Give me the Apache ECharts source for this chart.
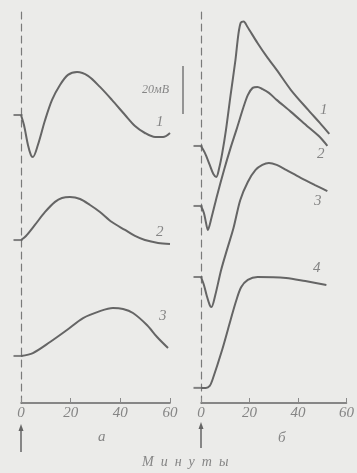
<!DOCTYPE html>
<html>
<head>
<meta charset="utf-8">
<script src="https://cdn.jsdelivr.net/npm/echarts@6/dist/echarts.min.js"></script>
<style>
    html, body { margin: 0; padding: 0; background: #ebebe9; }
    #chart { width: 357px; height: 473px; }
</style>
</head>
<body>
<div id="chart"></div>
<script>
    // ось X: минуты
    var xTicks = [0, 20, 40, 60];

    // панель а: кривые 1-3, [минуты, мВ]
    var a1 = [[0,120],[1.2,115.8],[2.8,107.5],[4,103.3],[4.8,102.5],[6.8,107.5],[9.7,117.9],[12.5,126.3],
              [15.7,132.5],[18.9,136.7],[22.6,137.9],[27,136.3],[31.8,131.7],[36.6,126.3],[41.9,120],
              [45.9,115.4],[49.9,112.5],[54,110.8],[57.2,110.8],[60,112.5]];
    var a2 = [[0,67.9],[2,69.6],[5.6,74.2],[9.7,79.6],[13.7,83.8],[16.5,85.4],[19.7,85.8],[23.8,85],
              [27.8,82.5],[31.8,79.6],[36.6,75.4],[41.9,72.1],[45.9,69.6],[49.9,67.9],[55.2,66.7],[60,66.3]];
    var a3 = [[0,19.6],[4.8,20.8],[11.7,25.4],[18.5,30.4],[25,35.4],[31.8,38.3],[37,39.6],[41.1,39.2],
              [45.1,37.5],[50.7,32.5],[54.8,27.5],[59.2,22.9]];

    // панель б: кривые 1-4
    var b1 = [[0,107.1],[1.6,104.2],[3.6,99.2],[5.1,95.4],[6.3,94.2],[7.5,97.9],[8.7,103.8],[10.3,113.8],
              [12.2,128.3],[14.2,142.9],[15.4,153.5],[16.4,158.5],[17.6,159],[19,157],
              [23.3,150],[27.2,144.2],[31.2,138.8],[37.1,130.4],[44.2,122.1],[49,116.7],[52.9,112.1]];
    var b2 = [[0,82.1],[1.2,79.2],[2,75.4],[2.8,72.1],[4.3,77.1],[6.7,86.7],[9.5,97.1],[12.2,106.3],
              [14.6,113.8],[17.4,122.9],[19.3,128.3],[21.3,131.3],[23.3,131.7],[25.3,130.8],[28,129.2],
              [31.2,126.3],[37.1,121.3],[44.2,115],[49,110.8],[52.1,107.1]];
    var b3 = [[0,52.5],[1.2,49.2],[2.4,44.6],[3.6,40.8],[4.3,40],[5.9,45],[8.3,55.4],[10.7,63.8],
              [13.4,72.9],[16.2,84.6],[19.3,92.1],[22.5,97.1],[25.3,99.2],[28,100],[31.2,99.2],
              [35.1,97.1],[41.1,93.8],[47,90.8],[52.1,88.3]];
    var b4 = [[0,6.3],[2,6.3],[3.6,7.1],[4.7,9.6],[8.7,22.1],[12.2,34.6],[14.6,42.9],[16.6,48.3],
              [19.3,51.3],[23.3,52.5],[35.1,52.1],[43,50.8],[51.7,49.2]];

    var curveNames = ['1', '2', '3', '4'];

    var ink = '#656565';
    var textInk = '#858585';
    var font = 'Liberation Serif';

    function curve(name, data, idx) {
        return {
            name: name,
            type: 'line',
            xAxisIndex: idx,
            yAxisIndex: idx,
            data: data,
            smooth: 0.3,
            showSymbol: false,
            lineStyle: { color: ink, width: 2 },
            silent: true
        };
    }

    // короткие штрихи исходного уровня у начала каждой кривой
    function baseMarks(list, idx) {
        return {
            type: 'scatter',
            xAxisIndex: idx,
            yAxisIndex: idx,
            symbol: 'rect',
            symbolSize: [9, 2],
            symbolOffset: [-3, 0],
            itemStyle: { color: ink },
            data: list.map(function (c) { return c[0]; }),
            silent: true
        };
    }

    function xAxisCfg(idx) {
        return {
            type: 'value',
            gridIndex: idx,
            min: 0,
            max: 60,
            interval: 20,
            axisLine: { lineStyle: { color: ink, width: 1.5 } },
            axisTick: { inside: true, length: 5, lineStyle: { color: '#8a8a8a' } },
            axisLabel: {
                color: textInk, fontSize: 15, fontStyle: 'italic', fontFamily: font, margin: 3,
                formatter: function (v) { return xTicks.indexOf(v) >= 0 ? String(v) : ''; }
            },
            splitLine: { show: false }
        };
    }

    function yAxisCfg(idx) {
        return {
            type: 'value',
            gridIndex: idx,
            min: 0,
            max: 165,
            axisLine: { show: true, lineStyle: { color: '#7a7a7a', width: 1.2, type: [7, 5] } },
            axisTick: { show: false },
            axisLabel: { show: false },
            splitLine: { show: false }
        };
    }

    function label(text, x, y, size) {
        return {
            type: 'text', left: x, top: y, silent: true,
            style: { text: text, fill: textInk, font: 'italic ' + (size || 15) + 'px "' + font + '"' }
        };
    }

    function arrow(x, y1, y2) {
        return {
            type: 'group', silent: true,
            children: [
                { type: 'line', shape: { x1: x, y1: y1 + 4, x2: x, y2: y2 }, style: { stroke: ink, lineWidth: 1.5 } },
                { type: 'polygon', shape: { points: [[x, y1], [x - 2.5, y1 + 7], [x + 2.5, y1 + 7]] }, style: { fill: ink } }
            ]
        };
    }

    var chart = echarts.init(document.getElementById('chart'));
    chart.setOption({
        backgroundColor: '#ebebe9',
        animation: false,
        grid: [
            { left: 21, top: 7, width: 149, height: 396 },
            { left: 201, top: 7, width: 152, height: 396 }
        ],
        xAxis: [xAxisCfg(0), xAxisCfg(1)],
        yAxis: [yAxisCfg(0), yAxisCfg(1)],
        series: [
            curve(curveNames[0], a1, 0),
            curve(curveNames[1], a2, 0),
            curve(curveNames[2], a3, 0),
            baseMarks([a1, a2, a3], 0),
            curve(curveNames[0], b1, 1),
            curve(curveNames[1], b2, 1),
            curve(curveNames[2], b3, 1),
            curve(curveNames[3], b4, 1),
            baseMarks([b1, b2, b3, b4], 1)
        ],
        graphic: [
            // номера кривых
            label(curveNames[0], 156, 115),
            label(curveNames[1], 156, 225),
            label(curveNames[2], 159, 309),
            label(curveNames[0], 320, 103),
            label(curveNames[1], 317, 147),
            label(curveNames[2], 314, 194),
            label(curveNames[3], 313, 261),
            // масштаб 20 мВ
            label('20мВ', 142, 84, 12),
            { type: 'line', silent: true, shape: { x1: 183, y1: 66, x2: 183, y2: 114 }, style: { stroke: '#777', lineWidth: 1.5 } },
            // подписи панелей
            label('а', 98, 430, 15),
            label('б', 278, 431, 15),
            label('М  и  н  у  т  ы', 142, 455, 14),
            // стрелки момента воздействия
            arrow(21, 424, 452),
            arrow(201, 422, 448)
        ]
    });
</script>
</body>
</html>
